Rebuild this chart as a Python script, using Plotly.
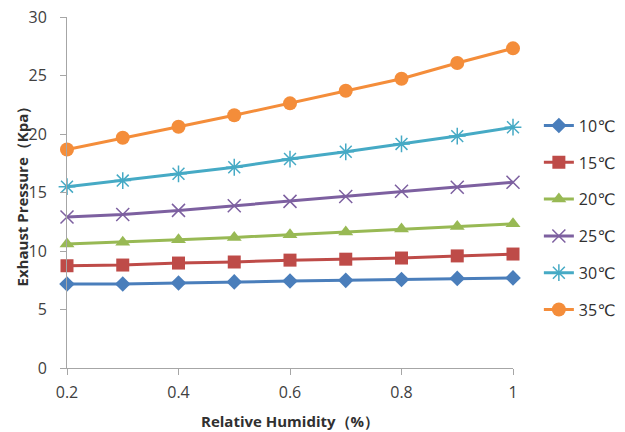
import plotly.graph_objects as go

humidity = [0.2, 0.3, 0.4, 0.5, 0.6, 0.7, 0.8, 0.9, 1.0]
series_names = ["10℃", "15℃", "20℃", "25℃", "30℃", "35℃"]
p10 = [7.18, 7.18, 7.26, 7.36, 7.43, 7.49, 7.57, 7.66, 7.70]
p15 = [8.74, 8.80, 8.97, 9.06, 9.22, 9.30, 9.40, 9.58, 9.74]
p20 = [10.60, 10.75, 10.96, 11.16, 11.39, 11.62, 11.88, 12.10, 12.32]
p25 = [12.90, 13.12, 13.47, 13.87, 14.24, 14.66, 15.10, 15.45, 15.87]
p30 = [15.50, 16.02, 16.60, 17.16, 17.86, 18.48, 19.15, 19.82, 20.58]
p35 = [18.68, 19.68, 20.62, 21.60, 22.62, 23.70, 24.72, 26.07, 27.32]
values = [p10, p15, p20, p25, p30, p35]
x_title = "Relative Humidity（%）"
y_title = "Exhaust Pressure（Kpa）"

colors = ["#4a7ebb", "#be4b48", "#98b954", "#7d60a0", "#46aac5", "#f48d3a"]
symbols = ["diamond", "square", "triangle-up", "x-thin-open", "asterisk-open", "circle"]
sizes = [12, 13, 13, 13, 14, 14]

fig = go.Figure()
for i, (name, vals) in enumerate(zip(series_names, values)):
    open_sym = symbols[i].endswith("open")
    fig.add_trace(go.Scatter(
        x=humidity, y=vals, name=name, mode="lines+markers",
        legendgroup=name, cliponaxis=False,
        line=dict(color=colors[i], width=3),
        marker=dict(symbol=symbols[i], size=sizes[i], color=colors[i],
                    line=dict(color=colors[i], width=1.5 if open_sym else 0)),
    ))

fam = "Open Sans, DejaVu Sans, sans-serif"
fig.update_layout(
    width=625, height=432,
    margin=dict(l=67, r=112, t=17, b=64, autoexpand=False),
    paper_bgcolor="white", plot_bgcolor="white",
    font=dict(family=fam, size=15, color="#404040"),
    showlegend=True,
    legend=dict(x=1.058, y=0.739, xanchor="left", yanchor="top",
                tracegroupgap=13, font=dict(size=16, color="#303030"),
                bgcolor="rgba(0,0,0,0)"),
    xaxis=dict(range=[0.2, 1.0], tickvals=[0.2, 0.4, 0.6, 0.8, 1.0],
               ticktext=["0.2", "0.4", "0.6", "0.8", "1"],
               showline=True, linecolor="#a6a6a6", linewidth=1,
               ticks="outside", ticklen=6, tickcolor="#a6a6a6",
               showgrid=False, zeroline=False, automargin=False,
               ticklabelstandoff=4,
               tickfont=dict(size=16, color="#404040")),
    yaxis=dict(range=[0, 30], tickvals=[0, 5, 10, 15, 20, 25, 30],
               showline=True, linecolor="#a6a6a6", linewidth=1,
               ticks="outside", ticklen=6, tickcolor="#a6a6a6",
               showgrid=False, zeroline=False, automargin=False,
               ticklabelstandoff=10,
               tickfont=dict(size=16, color="#404040")),
    annotations=[
        dict(text="<b>" + x_title + "</b>", xref="paper", yref="paper",
             x=0.5, y=-0.151, xanchor="center", yanchor="middle", showarrow=False,
             font=dict(size=15, color="#303030")),
        dict(text="<b>" + y_title + "</b>", xref="paper", yref="paper",
             x=-0.101, y=0.5, xanchor="center", yanchor="middle", showarrow=False,
             textangle=-90, font=dict(size=15, color="#303030")),
    ],
)

fig.write_html("out.html", config={"displayModeBar": False},
               post_script="document.body.style.margin='0';document.body.style.overflow='hidden';")
